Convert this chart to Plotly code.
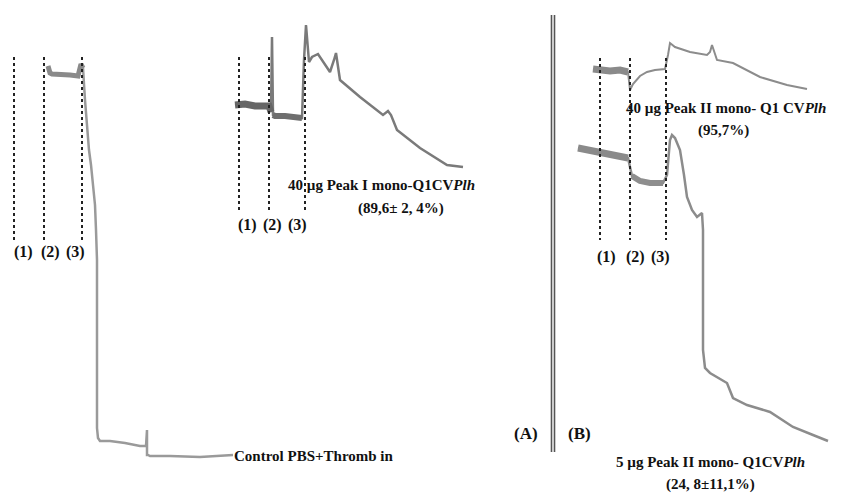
import plotly.graph_objects as go

# ---- Panel A: control trace (PBS + Thrombin)
ctrl_x = [48, 50, 52, 60, 70, 78, 81, 83, 85, 87, 89, 91, 93, 95, 96, 97, 97, 98, 100, 110, 125, 140, 146, 147, 147, 148, 150, 170, 200, 233]
ctrl_y = [66, 73, 74, 74, 75, 76, 64, 68, 100, 130, 150, 165, 185, 205, 230, 260, 428, 438, 441, 441, 443, 446, 446, 430, 455, 455, 456, 456, 457, 455]

# ---- Panel A inset: 40 ug Peak I
p1_x = [235, 245, 255, 265, 269, 271, 272, 273, 275, 285, 295, 302, 304, 306, 309, 312, 318, 325, 330, 334, 336, 340, 360, 383, 388, 391, 397, 420, 447, 463]
p1_y = [105, 104, 106, 105, 106, 112, 37, 115, 116, 116, 117, 118, 60, 25, 62, 57, 54, 65, 72, 60, 53, 80, 97, 115, 111, 115, 130, 148, 165, 167]

# ---- Panel B upper trace: 40 ug Peak II
p2u_x = [593, 600, 610, 620, 628, 630, 633, 640, 647, 655, 665, 668, 670, 675, 690, 707, 710, 712, 715, 717, 733, 760, 787, 807]
p2u_y = [69, 70, 71, 70, 72, 90, 84, 76, 72, 70, 69, 55, 43, 47, 52, 55, 52, 45, 55, 60, 63, 77, 85, 89]

# ---- Panel B lower trace: 5 ug Peak II
p2l_x = [578, 590, 600, 610, 620, 628, 632, 640, 650, 663, 667, 670, 672, 675, 680, 684, 687, 692, 697, 702, 703, 703, 705, 710, 717, 727, 733, 747, 770, 793, 813, 828]
p2l_y = [148, 150, 152, 154, 155, 158, 176, 181, 183, 183, 175, 140, 135, 138, 150, 175, 197, 210, 217, 213, 230, 350, 368, 373, 377, 383, 398, 405, 412, 427, 435, 441]

# ---- Event markers (1)(2)(3)
a_events = [14, 44, 82]
a_event_top, a_event_bot = 57, 240
i_events = [239, 269, 305]
i_event_top, i_event_bot = 57, 212
b_events = [600, 630, 666]
b_event_top, b_event_bot = 58, 240

event_labels = ["(1)", "(2)", "(3)"]
a_label_x = [23, 50, 75]
i_label_x = [247, 272, 297]
b_label_x = [606, 635, 660]

fig = go.Figure()

def add_trace(x, y, color, width):
    fig.add_trace(go.Scatter(x=x, y=y, mode="lines",
                             line=dict(color=color, width=width),
                             hoverinfo="skip", showlegend=False))

add_trace(ctrl_x, ctrl_y, "#9a9a9a", 2.5)
add_trace(ctrl_x[:8], ctrl_y[:8], "#8a8a8a", 5)
add_trace(p1_x, p1_y, "#7a7a7a", 2.5)
add_trace(p1_x[:6], p1_y[:6], "#666666", 7)
add_trace(p1_x[7:12], p1_y[7:12], "#6e6e6e", 6)
add_trace(p2u_x, p2u_y, "#8c8c8c", 2)
add_trace(p2u_x[:5], p2u_y[:5], "#8a8a8a", 7)
add_trace(p2l_x, p2l_y, "#8c8c8c", 2.5)
add_trace(p2l_x[:6], p2l_y[:6], "#8a8a8a", 7)
add_trace(p2l_x[6:10], p2l_y[6:10], "#8e8e8e", 6)

shapes = []
for xs, top, bot in [(a_events, a_event_top, a_event_bot),
                     (i_events, i_event_top, i_event_bot),
                     (b_events, b_event_top, b_event_bot)]:
    for xv in xs:
        shapes.append(dict(type="line", x0=xv, x1=xv, y0=top, y1=bot,
                           xref="x", yref="y",
                           line=dict(color="#222222", width=2, dash="dot")))
# double divider
for xv in [551.5, 554.5]:
    shapes.append(dict(type="line", x0=xv, x1=xv, y0=15, y1=452,
                       xref="x", yref="y", line=dict(color="#555555", width=1.6)))

FAMILY = "Liberation Serif, Times New Roman, serif"
annotations = []
def txt(x, y, s, anchor="center", size=15):
    annotations.append(dict(x=x, y=y, xref="x", yref="y", text=s, showarrow=False,
                            xanchor=anchor, yanchor="middle",
                            font=dict(family=FAMILY, size=size, color="#111111")))

for lx_list, ly in [(a_label_x, 252), (i_label_x, 225), (b_label_x, 257)]:
    for lx, lab in zip(lx_list, event_labels):
        txt(lx, ly, "<b>" + lab + "</b>", size=16)

txt(381, 185, "<b>40 µg Peak I mono-Q1CV<i>Plh</i></b>")
txt(401, 208, "<b>(89,6± 2, 4%)</b>")
txt(232, 456, "<b>Control PBS+Thromb in</b>", anchor="left")
txt(726, 108, "<b>40 µg Peak II mono- Q1 CV<i>Plh</i></b>")
txt(723, 130, "<b>(95,7%)</b>")
txt(710, 462, "<b>5 µg Peak II mono- Q1CV<i>Plh</i></b>")
txt(710, 484, "<b>(24, 8±11,1%)</b>")
txt(526, 433, "<b>(A)</b>", size=17)
txt(579, 433, "<b>(B)</b>", size=17)

fig.update_layout(
    width=846, height=495,
    margin=dict(l=0, r=0, t=0, b=0),
    paper_bgcolor="white", plot_bgcolor="white",
    xaxis=dict(range=[0, 846], visible=False, fixedrange=True),
    yaxis=dict(range=[495, 0], visible=False, fixedrange=True),
    shapes=shapes, annotations=annotations,
)
fig.write_html("out.html")
